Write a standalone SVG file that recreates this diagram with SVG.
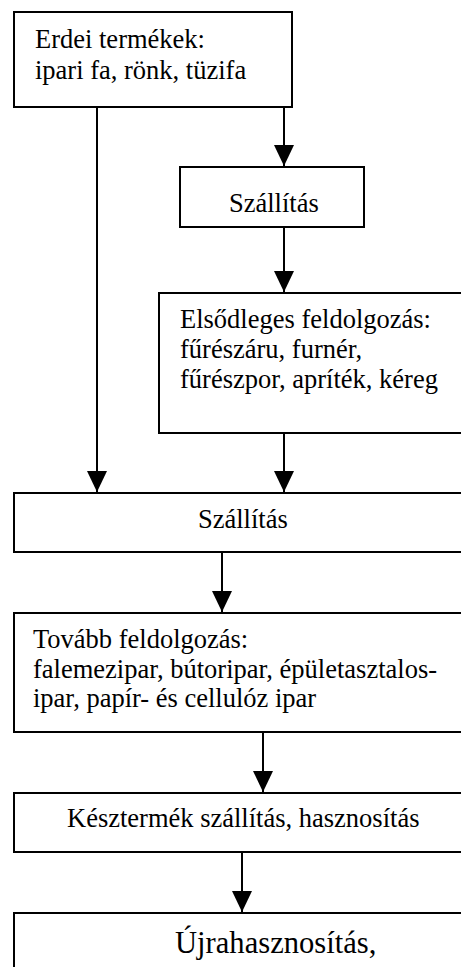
<svg xmlns="http://www.w3.org/2000/svg" width="461" height="967" viewBox="0 0 461 967">
<style>
rect.box{fill:#fff;stroke:#000;stroke-width:2}
text{font-family:"Liberation Serif","Times New Roman",serif;font-size:26.5px;fill:#000}
.big{font-size:30.6px}
line.c{stroke:#000;stroke-width:2}
</style>
<defs>
<marker id="ah" markerUnits="userSpaceOnUse" viewBox="0 0 21 20" refX="21" refY="10" markerWidth="21" markerHeight="20" orient="auto">
<path d="M0,0 L21,10 L0,20 z" fill="#000"/>
</marker>
</defs>
<rect width="461" height="967" fill="#fff"/>
<g id="n1"><rect class="box" x="14" y="12" width="278" height="95"/>
<text x="35" y="48">Erdei termékek:</text><text x="35" y="79">ipari fa, rönk, tüzifa</text></g>
<g id="n2"><rect class="box" x="180" y="167" width="184" height="60"/>
<text x="229" y="212">Szállítás</text></g>
<g id="n3"><rect class="box" x="159" y="293" width="320" height="140"/>
<text x="180" y="328">Elsődleges feldolgozás:</text><text x="180" y="358">fűrészáru, furnér,</text><text x="180" y="388">fűrészpor, apríték, kéreg</text></g>
<g id="n4"><rect class="box" x="14" y="493" width="456" height="59"/>
<text x="198" y="528">Szállítás</text></g>
<g id="n5"><rect class="box" x="14" y="613" width="456" height="119"/>
<text x="33" y="648">Tovább feldolgozás:</text><text x="33" y="678">falemezipar, bútoripar, épületasztalos-</text><text x="33" y="707">ipar, papír- és cellulóz ipar</text></g>
<g id="n6"><rect class="box" x="14" y="793" width="456" height="59"/>
<text x="67" y="827">Késztermék szállítás, hasznosítás</text></g>
<g id="n7"><rect class="box" x="14" y="913" width="456" height="80"/>
<text class="big" x="175" y="953">Újrahasznosítás,</text></g>
<g id="connectors">
<line class="c" x1="97" y1="107" x2="97" y2="492" marker-end="url(#ah)"/>
<line class="c" x1="284" y1="107" x2="284" y2="166" marker-end="url(#ah)"/>
<line class="c" x1="284" y1="227" x2="284" y2="292" marker-end="url(#ah)"/>
<line class="c" x1="284" y1="433" x2="284" y2="492" marker-end="url(#ah)"/>
<line class="c" x1="222" y1="552" x2="222" y2="612" marker-end="url(#ah)"/>
<line class="c" x1="263" y1="732" x2="263" y2="792" marker-end="url(#ah)"/>
<line class="c" x1="242" y1="852" x2="242" y2="912" marker-end="url(#ah)"/>
</g>
</svg>
